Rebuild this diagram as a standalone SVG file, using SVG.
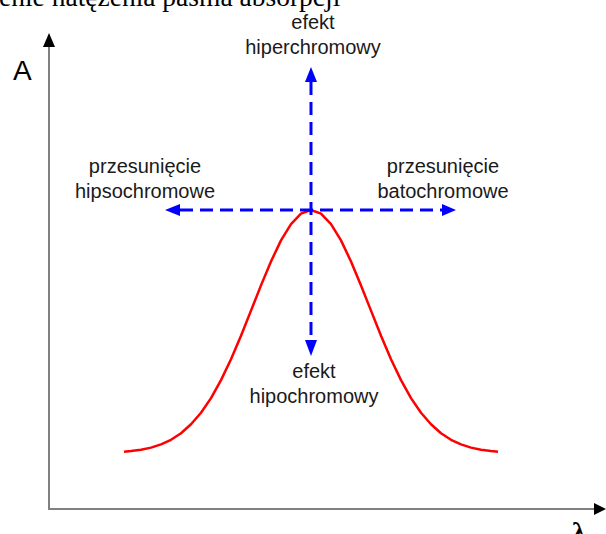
<svg xmlns="http://www.w3.org/2000/svg" width="606" height="534" viewBox="0 0 606 534">
<style>
.lbl{font-family:"Liberation Sans",Arial,sans-serif;font-size:20px;fill:#1a1a1a;text-anchor:middle}
.axis{stroke:#808080;stroke-width:2;fill:none}
.blue{stroke:#0000ff;stroke-width:3;stroke-dasharray:13 7;fill:none}
.bh{fill:#0000ff}
</style>
<rect width="606" height="534" fill="#fff"/>
<g id="title"><text x="-1" y="6" font-family="'Liberation Serif','Times New Roman',serif" font-size="27.5" fill="#000">enie natężenia pasma absorpcji</text></g>
<g id="axes">
<line class="axis" x1="49" y1="46" x2="49" y2="509"/>
<line class="axis" x1="48" y1="509" x2="595" y2="509"/>
<polygon points="49,33 43,47 55,47" fill="#000"/>
<polygon points="606,509 594,503 594,515" fill="#000"/>
<text x="13" y="80" font-family="'Liberation Sans',Arial,sans-serif" font-size="28" fill="#000">A</text>
<text x="572" y="541" font-family="'Liberation Serif','Times New Roman',serif" font-size="28" font-weight="bold" fill="#000">λ</text>
</g>
<g id="curve">
<path d="M124,451.7 L131,451 L141,449.7 L151,447.6 L161,444.4 L171,439.8 L181,433.3 L191,424.3 L201,412.7 L211,398.1 L221,380.1 L231,359.2 L241,335.7 L251,310.6 L261,285.4 L271,261.5 L281,240.4 L291,224.1 L301,213.6 L311,210 L321,213.6 L331,224.1 L341,240.4 L351,261.5 L361,285.4 L371,310.6 L381,335.7 L391,359.2 L401,380.1 L411,398.1 L421,412.7 L431,424.3 L441,433.3 L451,439.8 L461,444.4 L471,447.6 L481,449.7 L491,451 L498,451.7" stroke="#ff0000" stroke-width="2.5" fill="none" stroke-linejoin="round"/>
</g>
<g id="connectors">
<line class="blue" x1="311" y1="82" x2="311" y2="340"/>
<line class="blue" x1="180" y1="210" x2="442" y2="210"/>
<polygon class="bh" points="311,67 305,82 317,82"/>
<polygon class="bh" points="311,356 305,340 317,340"/>
<polygon class="bh" points="165,210 180,204 180,216"/>
<polygon class="bh" points="456,210 442,204 442,216"/>
</g>
<g id="label-hiper"><text class="lbl" x="313" y="29">efekt</text><text class="lbl" x="313" y="54">hiperchromowy</text></g>
<g id="label-hipso"><text class="lbl" x="145" y="173">przesunięcie</text><text class="lbl" x="145" y="198">hipsochromowe</text></g>
<g id="label-bato"><text class="lbl" x="443" y="173">przesunięcie</text><text class="lbl" x="443" y="198">batochromowe</text></g>
<g id="label-hipo"><text class="lbl" x="314" y="378">efekt</text><text class="lbl" x="314" y="403">hipochromowy</text></g>
</svg>
